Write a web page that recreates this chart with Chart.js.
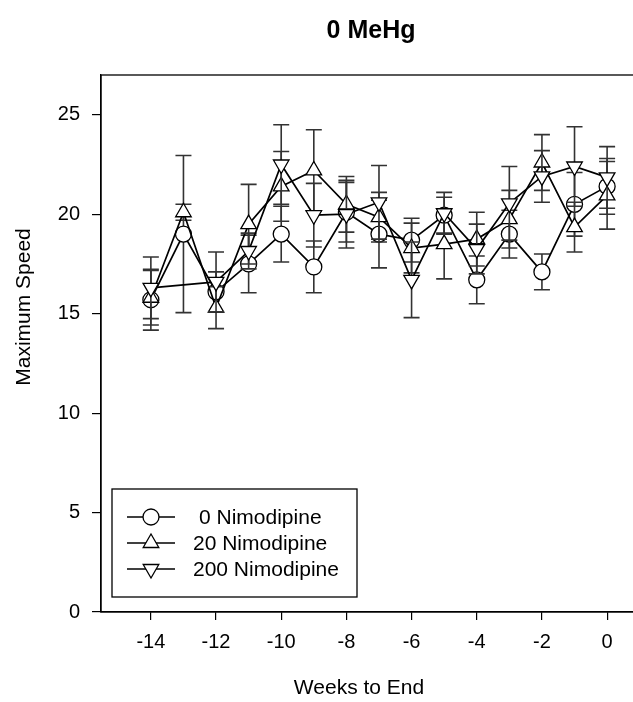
<!DOCTYPE html>
<html>
<head>
<meta charset="utf-8">
<script src="https://cdn.jsdelivr.net/npm/chart.js@4.4.1/dist/chart.umd.min.js"></script>
<style>
  html, body { margin: 0; padding: 0; background: #fff; overflow: hidden; }
  #wrap { width: 650px; height: 702px; }
</style>
</head>
<body>
<div id="wrap"><canvas id="speedChart" width="650" height="702"></canvas></div>
<script>
// values
var weeks = [-14, -13, -12, -11, -10, -9, -8, -7, -6, -5, -4, -3, -2, -1, 0];

var nim0Mean = [15.7, 19.0, 16.1, 17.5, 19.0, 17.35, 20.1, 19.0, 18.7, 19.95, 16.7, 19.0, 17.1, 20.5, 21.4];
var nim0Err  = [1.53, 3.95, 1.0, 1.45, 1.4, 1.3, 1.5, 1.7, 1.1, 0.9, 1.2, 1.2, 0.9, 1.6, 1.4];

var nim20Mean = [15.8, 20.1, 15.3, 19.5, 21.4, 22.2, 20.5, 19.85, 18.3, 18.5, 18.75, 19.75, 22.6, 19.35, 20.95];
var nim20Err  = [1.37, 0.4, 1.05, 2.0, 1.75, 2.05, 1.4, 1.25, 1.25, 1.75, 1.35, 1.45, 1.4, 1.25, 1.7];

var nim200Mean = [16.3, null, 16.6, 18.15, 22.5, 19.95, 20.0, 20.6, 16.7, 20.05, 18.25, 20.55, 21.9, 22.4, 21.85];
var nim200Err  = [1.55, null, 1.5, 0.9, 2.0, 1.6, 1.7, 1.85, 1.9, 1.05, 1.25, 1.85, 1.3, 2.0, 1.55];

var xTicks = [-14, -12, -10, -8, -6, -4, -2, 0];
var yTicks = [0, 5, 10, 15, 20, 25];

var seriesNames = ['0 Nimodipine', '20 Nimodipine', '200 Nimodipine'];

var FONT = 'Liberation Sans, Arial, sans-serif';

function toPoints(means) {
  return weeks.map(function(w, i) {
    return { x: w, y: means[i] };
  });
}

function makeSet(label, means, errs, style, rot, radius, order) {
  return {
    label: label,
    data: toPoints(means),
    errors: errs,
    borderColor: '#000',
    borderWidth: 1.7,
    pointStyle: style,
    rotation: rot,
    pointRadius: radius,
    pointBorderWidth: 1.3,
    pointBorderColor: '#000',
    pointBackgroundColor: '#fff',
    tension: 0,
    spanGaps: true,
    order: order
  };
}

// error bars of a series go down just before that series is drawn
var errorBars = {
  id: 'errorBars',
  beforeDatasetDraw: function(chart, args) {
    var ds = chart.data.datasets[args.index];
    var xs = chart.scales.x, ys = chart.scales.y;
    var c = chart.ctx;
    c.save();
    c.strokeStyle = '#333';
    c.lineWidth = 1.6;
    ds.data.forEach(function(p, i) {
      var e = ds.errors[i];
      if (p.y === null || e === null) return;
      var px = xs.getPixelForValue(p.x);
      var top = ys.getPixelForValue(p.y + e);
      var bot = ys.getPixelForValue(p.y - e);
      c.beginPath();
      c.moveTo(px, top); c.lineTo(px, bot);
      c.moveTo(px - 8, top); c.lineTo(px + 8, top);
      c.moveTo(px - 8, bot); c.lineTo(px + 8, bot);
      c.stroke();
    });
    c.restore();
  }
};

// frame, titles and the boxed legend
var decorations = {
  id: 'decorations',
  afterDraw: function(chart) {
    var c = chart.ctx;
    var a = chart.chartArea;
    c.save();
    c.strokeStyle = '#000';
    c.lineWidth = 1.3;
    c.strokeRect(a.left, a.top, a.right - a.left, a.bottom - a.top);

    c.fillStyle = '#000';
    c.font = 'bold 25px ' + FONT;
    c.textAlign = 'center';
    c.textBaseline = 'middle';
    c.fillText('0 MeHg', 371, 31);

    c.font = '21px ' + FONT;
    c.fillText('Weeks to End', 359, 688);

    c.save();
    c.translate(24, 307);
    c.rotate(-Math.PI / 2);
    c.fillText('Maximum Speed', 0, 0);
    c.restore();

    // legend box
    c.lineWidth = 1.3;
    c.strokeRect(112, 489, 245, 108);
    var rows = [517, 543, 569];
    var textX = [199, 193, 193];
    chart.data.datasets.slice().sort(function(p, q) { return q.order - p.order; }).forEach(function(ds, i) {
      var y = rows[i];
      c.strokeStyle = '#000';
      c.lineWidth = 1.5;
      c.beginPath();
      c.moveTo(127, y); c.lineTo(175, y);
      c.stroke();
      c.fillStyle = '#fff';
      c.lineWidth = 1.3;
      Chart.helpers.drawPoint(c, {
        pointStyle: ds.pointStyle,
        rotation: ds.rotation,
        radius: ds.pointRadius,
        borderWidth: 1.3
      }, 151, y);
      c.fillStyle = '#000';
      c.font = '21px ' + FONT;
      c.textAlign = 'left';
      c.fillText(ds.label, textX[i], y + 1);
    });
    c.restore();
  }
};

new Chart(document.getElementById('speedChart'), {
  type: 'line',
  data: {
    datasets: [
      makeSet(seriesNames[0], nim0Mean, nim0Err, 'circle', 0, 8, 3),
      makeSet(seriesNames[1], nim20Mean, nim20Err, 'triangle', 0, 9, 2),
      makeSet(seriesNames[2], nim200Mean, nim200Err, 'triangle', 180, 9, 1)
    ]
  },
  options: {
    responsive: false,
    animation: false,
    layout: { padding: { left: 0, top: 75, right: 10, bottom: 0 } },
    plugins: {
      legend: { display: false },
      tooltip: { enabled: false },
      title: { display: false }
    },
    scales: {
      x: {
        type: 'linear',
        min: -15.53,
        max: 1.0,
        afterBuildTicks: function(s) { s.ticks = xTicks.map(function(v) { return { value: v }; }); },
        afterFit: function(s) { s.height = 90; },
        grid: { drawOnChartArea: false, color: '#000', tickLength: 8, lineWidth: 1.2 },
        border: { color: '#000', width: 1.3 },
        ticks: { color: '#000', font: { family: FONT, size: 20 }, padding: 10, maxRotation: 0 }
      },
      y: {
        min: 0,
        max: 27,
        afterBuildTicks: function(s) { s.ticks = yTicks.map(function(v) { return { value: v }; }); },
        afterFit: function(s) { s.width = 101; },
        grid: { drawOnChartArea: false, color: '#000', tickLength: 9, lineWidth: 1.2 },
        border: { color: '#000', width: 1.3 },
        ticks: { color: '#000', font: { family: FONT, size: 20 }, padding: 12 }
      }
    }
  },
  plugins: [errorBars, decorations]
});
</script>
</body>
</html>
